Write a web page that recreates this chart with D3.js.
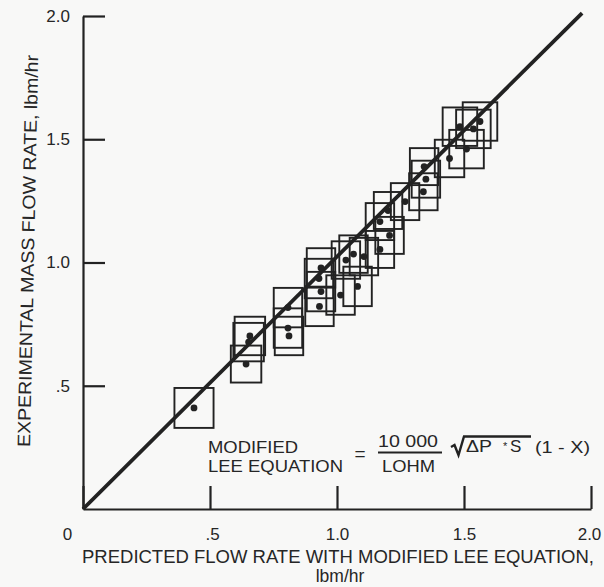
<!DOCTYPE html>
<html>
<head>
<meta charset="utf-8">
<script src="https://cdn.jsdelivr.net/npm/d3@7"></script>
<style>
  body { margin: 0; background: #f8f8f7; }
  text { font-family: "Liberation Sans", Arial, sans-serif; fill: #262626; }
</style>
</head>
<body>
<div id="wrap"></div>
<script>
// predicted flow (x) vs experimental flow (y), lbm/hr
const predicted = [0.437, 0.642, 0.657, 0.652, 0.807, 0.807, 0.811, 0.937, 0.929, 0.937,
  0.931, 1.014, 1.081, 1.065, 1.106, 1.035, 1.169, 1.207, 1.169, 1.201,
  1.268, 1.340, 1.350, 1.343, 1.443, 1.510, 1.484, 1.537, 1.563];
const experimental = [0.410, 0.588, 0.702, 0.677, 0.817, 0.734, 0.702, 0.978, 0.935, 0.882,
  0.822, 0.868, 0.903, 1.034, 1.024, 1.010, 1.053, 1.110, 1.166, 1.211,
  1.247, 1.287, 1.338, 1.389, 1.422, 1.460, 1.551, 1.542, 1.572];
// half size of the uncertainty box around each point
const errX = [0.077, 0.060, 0.060, 0.060, 0.056, 0.056, 0.056, 0.056, 0.056, 0.056,
  0.056, 0.056, 0.056, 0.056, 0.056, 0.056, 0.056, 0.056, 0.056, 0.056,
  0.056, 0.056, 0.056, 0.056, 0.058, 0.068, 0.068, 0.068, 0.068];
const errY = [0.081, 0.075, 0.078, 0.078, 0.080, 0.080, 0.078, 0.080, 0.080, 0.080,
  0.080, 0.080, 0.080, 0.076, 0.076, 0.076, 0.075, 0.075, 0.075, 0.075,
  0.075, 0.075, 0.075, 0.075, 0.076, 0.078, 0.078, 0.078, 0.078];
// line of agreement
const lineX = [0, 1.965];
const lineY = [0, 2.012];
const xTicks = [0, 0.5, 1.0, 1.5, 2.0];
const yTicks = [0.5, 1.0, 1.5, 2.0];
const tickText = { 0: "0", 0.5: ".5", 1: "1.0", 1.5: "1.5", 2: "2.0" };

const width = 604;
const height = 587;
const ink = "#222";

let svg = d3.select("#wrap")
  .append("svg")
  .attr("width", width)
  .attr("height", height);

svg.append("rect").attr("width", width).attr("height", height).attr("fill", "#f8f8f7");

const x = d3.scaleLinear().domain([0, 2]).range([83, 591]);
const y = d3.scaleLinear().domain([0, 2]).range([509, 16]);

// axes, ticks pointing inward
const xAxis = d3.axisBottom(x)
  .tickValues(xTicks)
  .tickSizeInner(-23)
  .tickSizeOuter(0)
  .tickPadding(19)
  .tickFormat(d => tickText[d]);
const gx = svg.append("g").attr("transform", `translate(0,${y(0)})`).call(xAxis);
gx.selectAll("text").attr("dx", d => d === 0 ? "-16px" : (d === 0.5 ? "2px" : (d === 2 ? "-2px" : "0")));

const yAxis = d3.axisLeft(y)
  .tickValues(yTicks)
  .tickSizeInner(-22)
  .tickSizeOuter(0)
  .tickPadding(13)
  .tickFormat(d => tickText[d]);
const gy = svg.append("g").attr("transform", `translate(${x(0)},0)`).call(yAxis);

svg.selectAll(".domain, .tick line").attr("stroke", ink).attr("stroke-width", 2.2);
svg.selectAll(".tick text")
  .style("font-family", "'Liberation Sans', Arial, sans-serif")
  .attr("font-size", 17)
  .attr("fill", "#262626");

// 45 degree line
const line = d3.line().x(d => x(d[0])).y(d => y(d[1]));
svg.append("path")
  .datum(d3.zip(lineX, lineY))
  .attr("d", line)
  .attr("fill", "none")
  .attr("stroke", ink)
  .attr("stroke-width", 3.8);

// boxes and points
const pts = predicted.map((d, i) => ({ px: d, ey: experimental[i], dx: errX[i], dy: errY[i] }));
svg.append("g").selectAll("rect")
  .data(pts)
  .enter()
  .append("rect")
  .attr("x", d => x(d.px - d.dx))
  .attr("y", d => y(d.ey + d.dy))
  .attr("width", d => x(d.px + d.dx) - x(d.px - d.dx))
  .attr("height", d => y(d.ey - d.dy) - y(d.ey + d.dy))
  .attr("fill", "none")
  .attr("stroke", ink)
  .attr("stroke-width", 1.9);
svg.append("g").selectAll("circle")
  .data(pts)
  .enter()
  .append("circle")
  .attr("cx", d => x(d.px))
  .attr("cy", d => y(d.ey))
  .attr("r", 3.4)
  .attr("fill", ink);

// axis titles
svg.append("text")
  .attr("transform", "translate(30,447) rotate(-88.8)")
  .attr("font-size", 18)
  .attr("textLength", 392)
  .attr("lengthAdjust", "spacingAndGlyphs")
  .text("EXPERIMENTAL MASS FLOW RATE, lbm/hr");
svg.append("text")
  .attr("x", 82).attr("y", 563)
  .attr("font-size", 18)
  .attr("textLength", 512)
  .attr("lengthAdjust", "spacingAndGlyphs")
  .text("PREDICTED FLOW RATE WITH MODIFIED LEE EQUATION,");
svg.append("text")
  .attr("x", 340).attr("y", 582)
  .attr("text-anchor", "middle")
  .attr("font-size", 17.5)
  .text("lbm/hr");

// equation
const eq = svg.append("g").attr("font-size", 17);
eq.append("text").attr("x", 208).attr("y", 453).attr("textLength", 90).attr("lengthAdjust", "spacingAndGlyphs").text("MODIFIED");
eq.append("text").attr("x", 208).attr("y", 472).attr("textLength", 135).attr("lengthAdjust", "spacingAndGlyphs").text("LEE EQUATION");
eq.append("text").attr("x", 360).attr("y", 460).attr("text-anchor", "middle").attr("font-size", 19).text("=");
eq.append("text").attr("x", 378).attr("y", 447).attr("textLength", 60).attr("lengthAdjust", "spacingAndGlyphs").text("10  000");
eq.append("line").attr("x1", 378).attr("x2", 442).attr("y1", 452.5).attr("y2", 452.5).attr("stroke", ink).attr("stroke-width", 2);
eq.append("text").attr("x", 382).attr("y", 472).attr("textLength", 53).attr("lengthAdjust", "spacingAndGlyphs").text("LOHM");
eq.append("path")
  .attr("d", "M451,447 L454.5,445 L458.5,455 L464,436.5 L531,436.5")
  .attr("fill", "none").attr("stroke", ink).attr("stroke-width", 2.4);
eq.append("text").attr("x", 466).attr("y", 452).attr("textLength", 26).attr("lengthAdjust", "spacingAndGlyphs").text("ΔP");
eq.append("text").attr("x", 503).attr("y", 450).attr("font-size", 11).text("*");
eq.append("text").attr("x", 510).attr("y", 452).text("S");
eq.append("text").attr("x", 535).attr("y", 453).attr("textLength", 55).attr("lengthAdjust", "spacingAndGlyphs").text("(1 - X)");
</script>
</body>
</html>
